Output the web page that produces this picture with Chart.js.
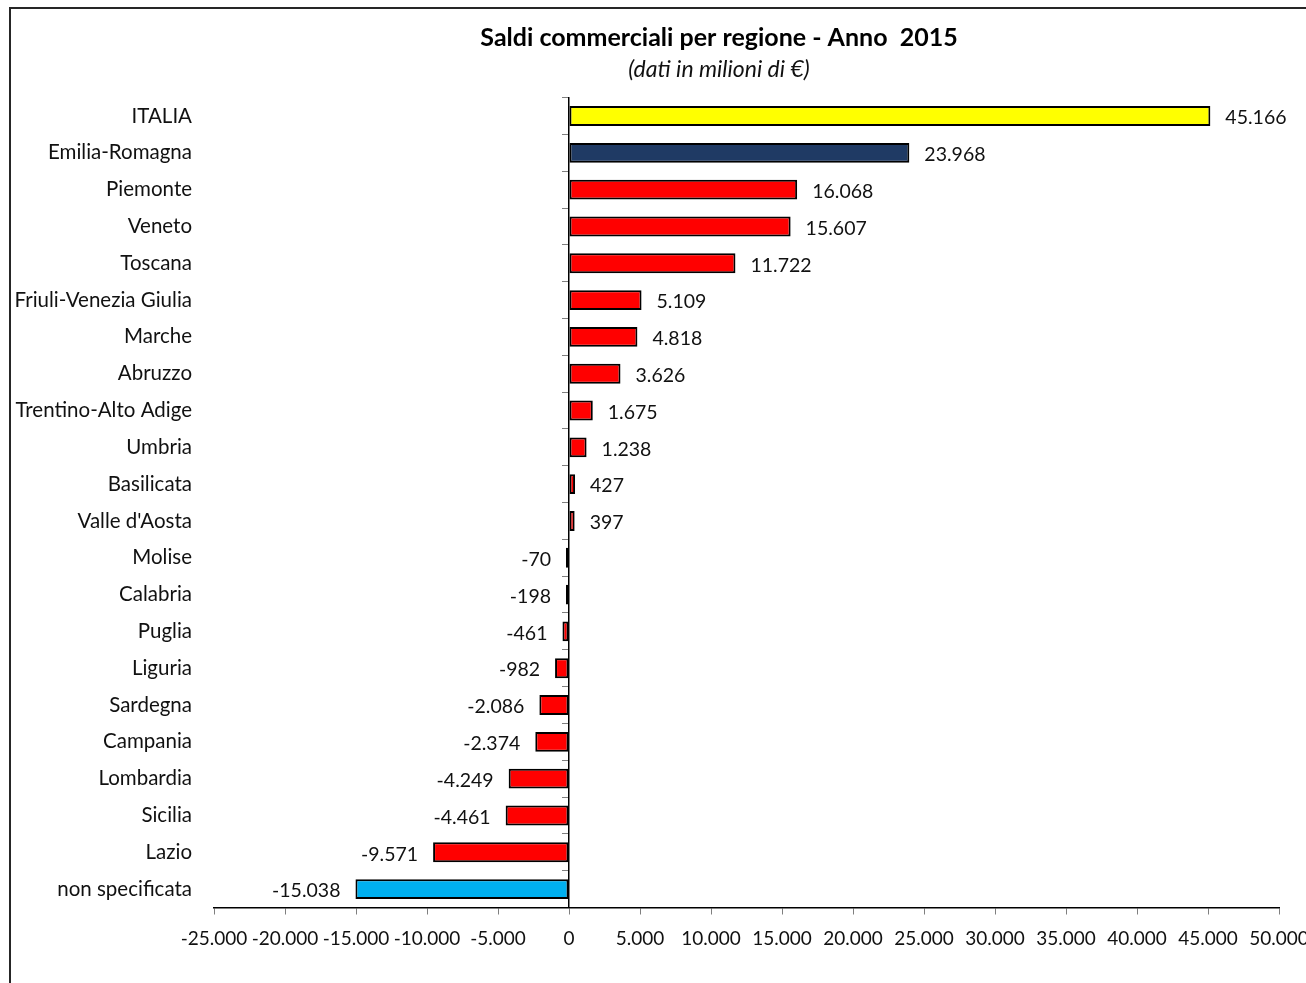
<!DOCTYPE html>
<html>
<head>
<meta charset="utf-8">
<title>Saldi commerciali per regione - Anno 2015</title>
<script src="https://cdn.jsdelivr.net/npm/chart.js@4/dist/chart.umd.min.js"></script>
<style>
body { margin: 0; background: #fff; overflow: hidden; }
#frame { position: absolute; left: 9px; top: 7px; width: 1500px; height: 1100px; border: 2px solid #262626; }
#wrap { position: absolute; left: 10px; top: 8px; width: 1418px; height: 975px; }
</style>
</head>
<body>
<div id="frame"></div>
<div id="wrap"><canvas id="myChart" width="1418" height="975"></canvas></div>
<script>
// data (milioni di euro)
const categories = ['ITALIA', 'Emilia-Romagna', 'Piemonte', 'Veneto', 'Toscana',
	'Friuli-Venezia Giulia', 'Marche', 'Abruzzo', 'Trentino-Alto Adige', 'Umbria',
	'Basilicata', "Valle d'Aosta", 'Molise', 'Calabria', 'Puglia', 'Liguria',
	'Sardegna', 'Campania', 'Lombardia', 'Sicilia', 'Lazio', 'non specificata'];
const values = [45166, 23968, 16068, 15607, 11722, 5109, 4818, 3626, 1675, 1238,
	427, 397, -70, -198, -461, -982, -2086, -2374, -4249, -4461, -9571, -15038];
const axisMin = -25000;
const axisMax = 50000;
const axisStep = 5000;

const titleText = 'Saldi commerciali per regione - Anno  2015';
const subtitleText = '(dati in milioni di \u20AC)';

const FONT = 'Lato';
const TEXT = '#111';

// italian thousands separator
function fmt (v) {
	return (v < 0 ? '-' : '') + String(Math.abs(v)).replace(/\B(?=(\d{3})+(?!\d))/g, '.');
}

function barColor (name) {
	if (name === 'ITALIA') return '#ffff00';
	if (name === 'Emilia-Romagna') return '#1f3a64';
	if (name === 'non specificata') return '#00b0f0';
	return '#ff0000';
}

// value labels next to the bar ends
const valueLabels = {
	id: 'valueLabels',
	afterDatasetsDraw (chart) {
		const ctx = chart.ctx;
		const meta = chart.getDatasetMeta(0);
		ctx.save();
		ctx.font = '19.5px ' + FONT;
		ctx.fillStyle = TEXT;
		ctx.textBaseline = 'middle';
		meta.data.forEach(function (bar, i) {
			const v = values[i];
			if (v >= 0) {
				ctx.textAlign = 'left';
				ctx.fillText(fmt(v), bar.x + 15, bar.y + 2);
			} else {
				ctx.textAlign = 'right';
				ctx.fillText(fmt(v), bar.x - 15, bar.y + 2);
			}
		});
		ctx.restore();
	}
};

const ctx = document.getElementById('myChart').getContext('2d');
let myChart = new Chart(ctx, {
	type: 'bar',
	data: {
		labels: categories,
		datasets: [{
			data: values,
			backgroundColor: categories.map(barColor),
			borderColor: '#000',
			borderWidth: 2,
			borderSkipped: false,
			barPercentage: 0.54,
			categoryPercentage: 1,
			minBarLength: 3
		}]
	},
	options: {
		indexAxis: 'y',
		responsive: false,
		animation: false,
		devicePixelRatio: 1,
		layout: {
			padding: { left: 0, right: 0, top: 0, bottom: 15.5 }
		},
		plugins: {
			legend: { display: false },
			tooltip: { enabled: false },
			title: {
				display: true,
				text: titleText,
				color: '#000',
				font: { family: FONT, size: 25, weight: 'bold', lineHeight: 1.2 },
				padding: { top: 15, bottom: 0 }
			},
			subtitle: {
				display: true,
				text: subtitleText,
				color: TEXT,
				font: { family: FONT, size: 23, style: 'italic', lineHeight: 1.2 },
				padding: { top: 3, bottom: 14 }
			}
		},
		scales: {
			x: {
				type: 'linear',
				position: 'bottom',
				min: axisMin,
				max: axisMax,
				ticks: {
					stepSize: axisStep,
					autoSkip: false,
					maxRotation: 0,
					padding: 13,
					color: TEXT,
					font: { family: FONT, size: 19 },
					callback: function (v) { return fmt(v); }
				},
				grid: { drawOnChartArea: false, drawTicks: true, tickLength: 7, color: '#7f7f7f' },
				border: { display: true, color: '#000', width: 1.5 },
				afterFit: function (s) { s.height = 60; }
			},
			y: {
				type: 'category',
				position: 'left',
				offset: true,
				ticks: {
					autoSkip: false,
					padding: 22,
					color: TEXT,
					font: { family: FONT, size: 20.5 }
				},
				grid: { display: false, drawTicks: false },
				border: { display: false },
				afterFit: function (s) { s.width = 204; }
			},
			// zero line with the category tick marks
			y2: {
				type: 'category',
				position: { x: 0 },
				offset: true,
				ticks: { display: false },
				grid: { offset: true, drawOnChartArea: false, drawTicks: true, tickLength: 6, color: '#7f7f7f' },
				border: { display: true, color: '#000', width: 1.5 }
			},
			// empty right margin, the original chart is wider than the window
			yRight: {
				type: 'category',
				position: 'right',
				ticks: { display: false },
				grid: { display: false, drawTicks: false },
				border: { display: false },
				afterFit: function (s) { s.width = 149; }
			}
		}
	},
	plugins: [valueLabels]
});
</script>
</body>
</html>
